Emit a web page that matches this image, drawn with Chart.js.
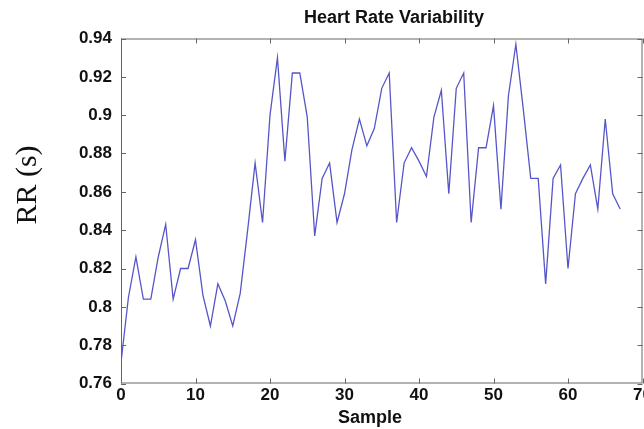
<!DOCTYPE html>
<html>
<head>
<meta charset="utf-8">
<script src="https://cdn.jsdelivr.net/npm/chart.js@4/dist/chart.umd.min.js"></script>
<style>
  html, body { margin: 0; padding: 0; background: #fff; overflow: hidden; }
  #wrap { width: 680px; height: 429px; }
</style>
</head>
<body>
<div id="wrap"><canvas id="chart-hrv"></canvas></div>
<script>
// RR interval per sample
const rr = [
  0.771, 0.805, 0.826, 0.804, 0.804, 0.826, 0.843, 0.804, 0.820, 0.820,
  0.835, 0.806, 0.790, 0.812, 0.803, 0.790, 0.807, 0.840, 0.875, 0.844,
  0.900, 0.930, 0.876, 0.922, 0.922, 0.899, 0.837, 0.867, 0.875, 0.844,
  0.859, 0.882, 0.898, 0.884, 0.893, 0.914, 0.922, 0.844, 0.875, 0.883,
  0.876, 0.868, 0.899, 0.913, 0.859, 0.914, 0.922, 0.844, 0.883, 0.883,
  0.905, 0.851, 0.910, 0.937, 0.903, 0.867, 0.867, 0.812, 0.867, 0.874,
  0.820, 0.859, 0.867, 0.874, 0.851, 0.898, 0.859, 0.851
];
const xTicks = [0, 10, 20, 30, 40, 50, 60, 70];
const yTicks = [0.76, 0.78, 0.8, 0.82, 0.84, 0.86, 0.88, 0.9, 0.92, 0.94];

const titleText = 'Heart Rate Variability';
const xTitle = 'Sample';
const yTitle = 'RR (s)';

const tickFont = { family: '"Liberation Sans", Arial, sans-serif', size: 17, weight: 'bold' };

// matlab style frame, inward ticks and labels
const matlabFrame = {
  id: 'matlabFrame',
  afterDraw(chart) {
    const ctx = chart.ctx;
    const a = chart.chartArea;
    const xs = chart.scales.x, ys = chart.scales.y;
    const len = 5;
    ctx.save();
    ctx.strokeStyle = '#666';
    ctx.lineWidth = 1;
    ctx.strokeRect(a.left + 0.5, a.top + 0.5, a.right - a.left - 1, a.bottom - a.top - 1);
    ctx.beginPath();
    xTicks.forEach(v => {
      const px = Math.round(xs.getPixelForValue(v)) + 0.5;
      ctx.moveTo(px, a.bottom); ctx.lineTo(px, a.bottom - len);
      ctx.moveTo(px, a.top); ctx.lineTo(px, a.top + len);
    });
    yTicks.forEach(v => {
      const py = Math.round(ys.getPixelForValue(v)) + 0.5;
      ctx.moveTo(a.left, py); ctx.lineTo(a.left + len, py);
      ctx.moveTo(a.right, py); ctx.lineTo(a.right - len, py);
    });
    ctx.stroke();

    ctx.fillStyle = '#111';
    ctx.textAlign = 'center';
    ctx.textBaseline = 'middle';
    ctx.font = 'bold 18px "Liberation Sans", Arial, sans-serif';
    ctx.fillText(titleText, 394, 18);
    ctx.fillText(xTitle, 370, 418);
    ctx.translate(28, 185);
    ctx.rotate(-Math.PI / 2);
    ctx.font = '30px "Liberation Serif", "Times New Roman", serif';
    ctx.fillText(yTitle, 0, 0);
    ctx.restore();
  }
};

const ctx = document.getElementById('chart-hrv').getContext('2d');
new Chart(ctx, {
  type: 'line',
  data: {
    datasets: [{
      label: 'RR',
      data: rr.map((v, i) => ({ x: i, y: v })),
      borderColor: '#5656c8',
      borderWidth: 1.3,
      pointRadius: 0,
      tension: 0,
      fill: false,
    }]
  },
  options: {
    responsive: true,
    maintainAspectRatio: false,
    animation: false,
    layout: { padding: { left: 0, right: 37.5, top: 38.5, bottom: 0 } },
    plugins: {
      legend: { display: false },
      title: { display: false },
      tooltip: { enabled: false },
    },
    scales: {
      x: {
        type: 'linear',
        min: 0, max: 70,
        afterBuildTicks: s => { s.ticks = xTicks.map(v => ({ value: v })); },
        afterFit: s => { s.height = 45.5; },
        grid: { display: false, drawTicks: false },
        border: { display: false },
        ticks: { font: tickFont, color: '#111', padding: 2, maxRotation: 0, autoSkip: false },
      },
      y: {
        min: 0.76, max: 0.94,
        afterBuildTicks: s => { s.ticks = yTicks.map(v => ({ value: v })); },
        afterFit: s => { s.width = 121; },
        grid: { display: false, drawTicks: false },
        border: { display: false },
        ticks: { font: tickFont, color: '#111', padding: 9, autoSkip: false,
                 callback: v => String(+v.toFixed(2)) },
      }
    }
  },
  plugins: [matlabFrame]
});
</script>
</body>
</html>
